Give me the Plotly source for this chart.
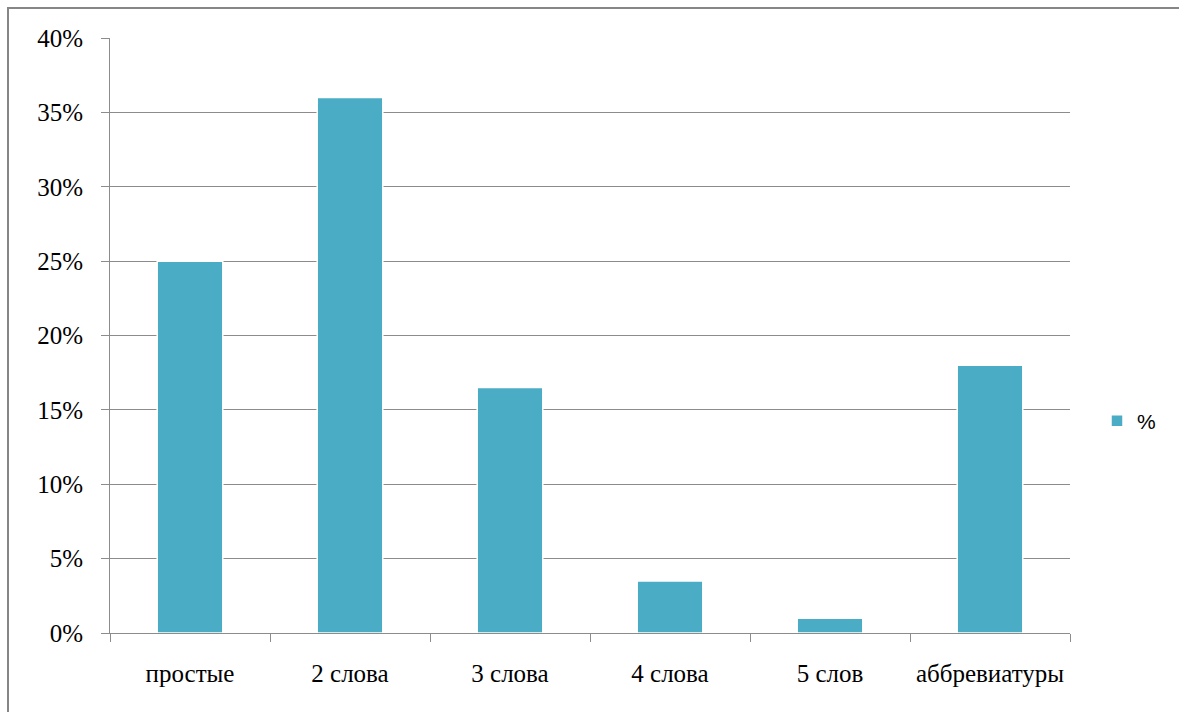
import plotly.graph_objects as go

categories = ["простые", "2 слова", "3 слова", "4 слова", "5 слов", "аббревиатуры"]
values = [25, 36, 16.5, 3.5, 1, 18]
series_name = "%"
y_ticks = [0, 5, 10, 15, 20, 25, 30, 35, 40]
y_tick_labels = [f"{v}%" for v in y_ticks]

W, H = 1179, 712
L, R, T, B = 110, 109, 38, 79
pw, ph = W - L - R, H - T - B

def px_x(p):
    return (p - L) / pw

def px_y(p):
    return (H - B - p) / ph

SERIF = "'Liberation Serif', 'Times New Roman', serif"
SANS = "'Liberation Sans', Arial, sans-serif"

fig = go.Figure()
fig.add_trace(go.Bar(
    x=categories, y=values, name=series_name,
    marker=dict(color="#4BACC6", line=dict(color="white", width=1.5)),
    width=0.41,
))

grid_col = "#8c8c8c"
fig.update_layout(
    width=W, height=H,
    margin=dict(l=L, r=R, t=T, b=B, pad=0),
    paper_bgcolor="white", plot_bgcolor="white",
    showlegend=True,
    legend=dict(x=px_x(1097), y=px_y(421), xanchor="left", yanchor="middle",
                font=dict(family=SANS, size=21, color="black"),
                itemwidth=30, bgcolor="rgba(0,0,0,0)"),
    font=dict(family=SERIF, size=25, color="black"),
    xaxis=dict(type="category", showline=True, linecolor=grid_col, linewidth=1,
               ticks="outside", tickson="boundaries", ticklen=8, tickcolor=grid_col,
               showgrid=False, ticklabelstandoff=18,
               tickfont=dict(family=SERIF, size=25, color="black")),
    yaxis=dict(range=[0, 40], tickvals=y_ticks, ticktext=y_tick_labels,
               showline=True, linecolor=grid_col, linewidth=1,
               ticks="outside", ticklen=8, tickcolor=grid_col,
               showgrid=True, gridcolor=grid_col, gridwidth=1, zeroline=False,
               ticklabelstandoff=13,
               tickfont=dict(family=SERIF, size=25, color="black")),
    shapes=[dict(type="rect", xref="paper", yref="paper",
                 x0=px_x(8), x1=px_x(1182), y0=px_y(716), y1=px_y(8),
                 line=dict(color="#868686", width=2), fillcolor="rgba(0,0,0,0)", layer="below")],
)

fig.write_html("out.html")
